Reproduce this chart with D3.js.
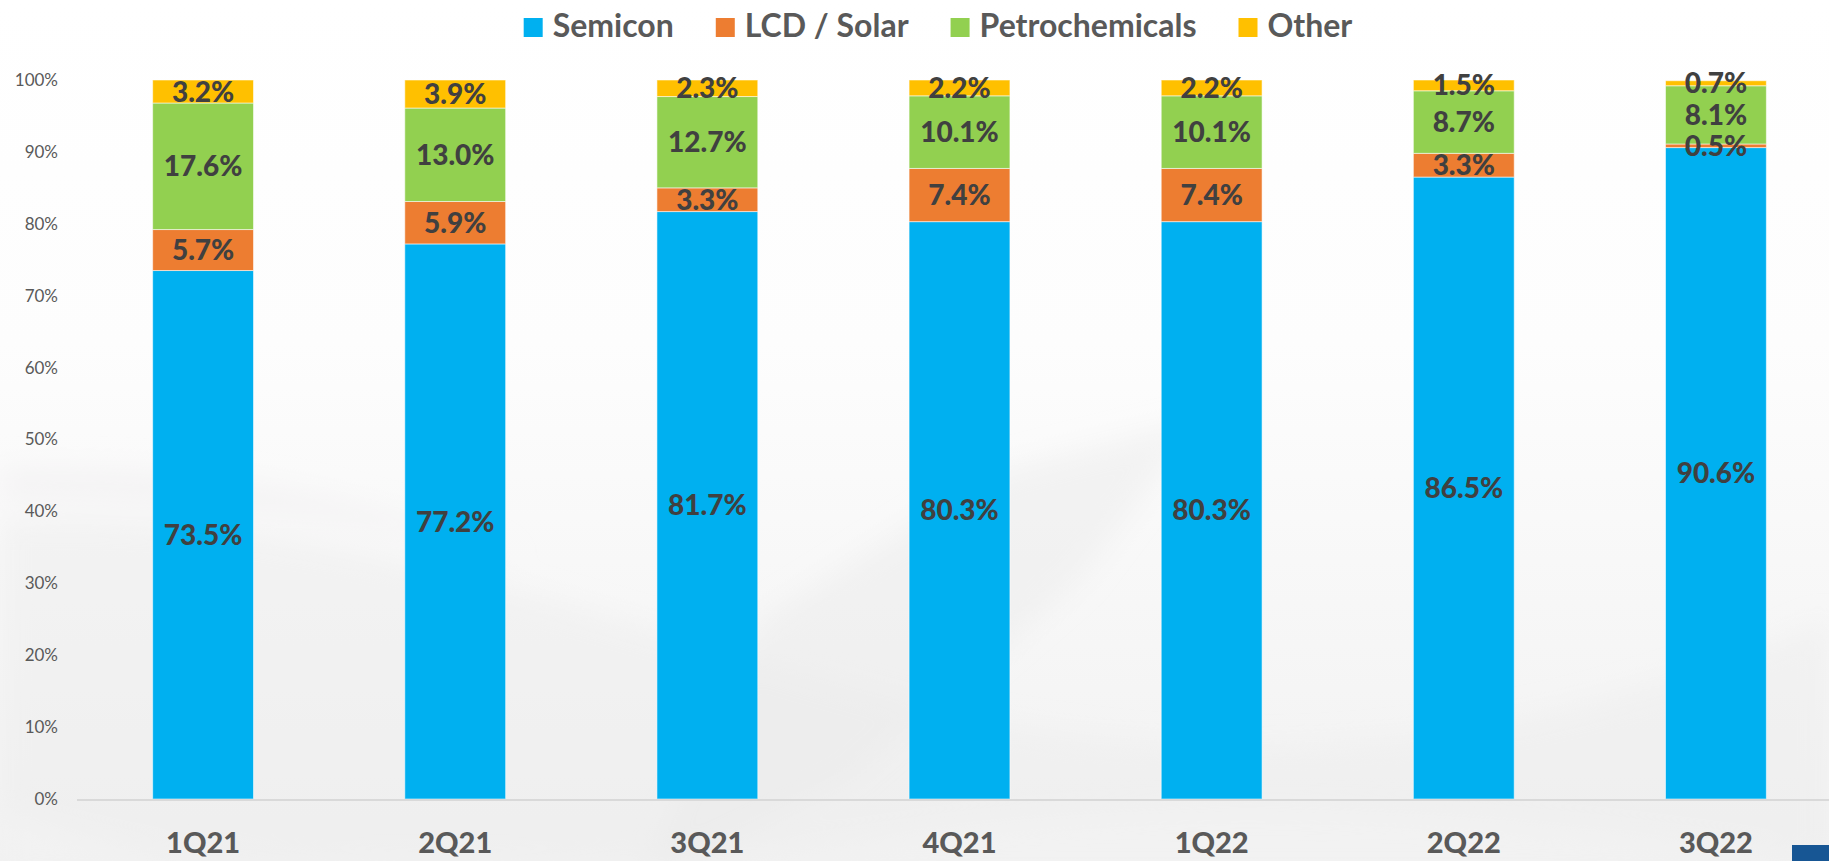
<!DOCTYPE html>
<html>
<head>
<meta charset="utf-8">
<script src="https://cdn.jsdelivr.net/npm/d3@7"></script>
<style>
  html, body { margin: 0; padding: 0; background: #fff; overflow: hidden; }
  svg { display: block; font-family: Lato, "Open Sans", sans-serif; }
</style>
</head>
<body>
<svg id="chart" width="1829" height="861"></svg>
<script>
// data (percent of sales)
const categories = ["1Q21", "2Q21", "3Q21", "4Q21", "1Q22", "2Q22", "3Q22"];
const seriesNames = ["Semicon", "LCD / Solar", "Petrochemicals", "Other"];
const semicon = [73.5, 77.2, 81.7, 80.3, 80.3, 86.5, 90.6];
const lcdSolar = [5.7, 5.9, 3.3, 7.4, 7.4, 3.3, 0.5];
const petrochemicals = [17.6, 13.0, 12.7, 10.1, 10.1, 8.7, 8.1];
const other = [3.2, 3.9, 2.3, 2.2, 2.2, 1.5, 0.7];
const yTicks = [0, 10, 20, 30, 40, 50, 60, 70, 80, 90, 100];

const colors = ["#00B0F0", "#ED7D31", "#92D050", "#FFC000"];

const W = 1829, H = 861;
const svg = d3.select("#chart");

// ---- background (soft grey swooshes)
const defs = svg.append("defs");
const bg = defs.append("linearGradient").attr("id", "bg")
  .attr("x1", 0).attr("y1", 0).attr("x2", 0).attr("y2", 1);
bg.append("stop").attr("offset", "0%").attr("stop-color", "#ffffff");
bg.append("stop").attr("offset", "40%").attr("stop-color", "#fdfdfd");
bg.append("stop").attr("offset", "100%").attr("stop-color", "#f1f1f1");
svg.append("rect").attr("width", W).attr("height", H).attr("fill", "url(#bg)");

const blur = defs.append("filter").attr("id", "soft")
  .attr("x", "-20%").attr("y", "-20%").attr("width", "140%").attr("height", "140%");
blur.append("feGaussianBlur").attr("stdDeviation", 14);

const swoosh = svg.append("g").attr("filter", "url(#soft)");
swoosh.append("path")
  .attr("d", "M0,520 C300,500 600,620 900,700 C1200,780 1500,760 1829,620 L1829,861 L0,861 Z")
  .attr("fill", "#eeeeee").attr("opacity", 0.5);
swoosh.append("path")
  .attr("d", "M640,880 L760,620 L1000,470 L1200,420 L1080,580 L850,780 Z")
  .attr("fill", "#e8e8e8").attr("opacity", 0.45);
swoosh.append("path")
  .attr("d", "M0,810 C250,900 600,880 900,835 C1200,790 1500,810 1829,861 L0,861 Z")
  .attr("fill", "#f2f2f2").attr("opacity", 0.8);
swoosh.append("path")
  .attr("d", "M0,470 C200,460 380,500 520,560 C380,520 200,500 0,500 Z")
  .attr("fill", "#f3f1f3").attr("opacity", 0.8);

// ---- scales
const x = d3.scaleBand()
  .domain(categories)
  .range([77, 1842])
  .paddingInner(0.6)
  .paddingOuter(0.3);

const y = d3.scaleLinear()
  .domain([0, 100])
  .range([799, 80]);

// ---- y axis labels
const yAxis = d3.axisLeft(y)
  .tickValues(yTicks)
  .tickFormat(d => d + "%")
  .tickSize(0)
  .tickPadding(0);

const gy = svg.append("g")
  .attr("transform", "translate(58,0)")
  .call(yAxis);
gy.select(".domain").remove();
gy.selectAll("text")
  .attr("fill", "#595959")
  .style("font-size", "17px")
  .style("font-family", "Lato, 'Open Sans', sans-serif");

// ---- stacked bars
const rows = categories.map((c, i) => ({
  cat: c,
  "Semicon": semicon[i],
  "LCD / Solar": lcdSolar[i],
  "Petrochemicals": petrochemicals[i],
  "Other": other[i]
}));

const stacked = d3.stack().keys(seriesNames)(rows);

const layers = svg.append("g").selectAll("g")
  .data(stacked)
  .join("g")
  .attr("fill", (d, i) => colors[i]);

layers.selectAll("rect")
  .data(d => d)
  .join("rect")
  .attr("x", d => x(d.data.cat))
  .attr("width", x.bandwidth())
  .attr("y", d => y(d[1]))
  .attr("height", d => y(d[0]) - y(d[1]))
  .attr("stroke", "rgba(255,255,255,0.55)")
  .attr("stroke-width", 1);

// ---- x axis line
svg.append("line")
  .attr("x1", 77).attr("x2", W)
  .attr("y1", y(0) + 1).attr("y2", y(0) + 1)
  .attr("stroke", "#d9d9d9")
  .attr("stroke-width", 2);

// ---- value labels
const labels = svg.append("g");
stacked.forEach(layer => {
  labels.selectAll(null)
    .data(layer)
    .join("text")
    .attr("x", d => x(d.data.cat) + x.bandwidth() / 2)
    .attr("y", d => y((d[0] + d[1]) / 2))
    .attr("dy", "0.36em")
    .attr("text-anchor", "middle")
    .attr("fill", "#404040")
    .style("font-size", "28px")
    .style("font-weight", "900")
    .text(d => (d[1] - d[0]).toFixed(1) + "%");
});

// ---- category labels
svg.append("g").selectAll("text")
  .data(categories)
  .join("text")
  .attr("x", d => x(d) + x.bandwidth() / 2)
  .attr("y", 853)
  .attr("text-anchor", "middle")
  .attr("fill", "#595959")
  .style("font-size", "29px")
  .style("font-weight", "900")
  .text(d => d);

// ---- legend
const legend = svg.append("g");
const items = legend.selectAll("g")
  .data(seriesNames)
  .join("g");
items.append("rect")
  .attr("width", 19).attr("height", 19)
  .attr("y", 18)
  .attr("fill", (d, i) => colors[i]);
items.append("text")
  .attr("x", 29)
  .attr("y", 37)
  .attr("fill", "#595959")
  .style("font-size", "32px")
  .style("font-weight", "bold")
  .text(d => d);

let cx = 0;
const offsets = [];
items.each(function () {
  offsets.push(cx);
  const tw = d3.select(this).select("text").node().getComputedTextLength();
  cx += 29 + tw + 42;
});
const totalW = cx - 42;
const startX = 938 - totalW / 2;
items.attr("transform", (d, i) => `translate(${startX + offsets[i]},0)`);

// ---- corner mark
svg.append("rect")
  .attr("x", 1792).attr("y", 845)
  .attr("width", W - 1792).attr("height", H - 845)
  .attr("fill", "#175694");
</script>
</body>
</html>
